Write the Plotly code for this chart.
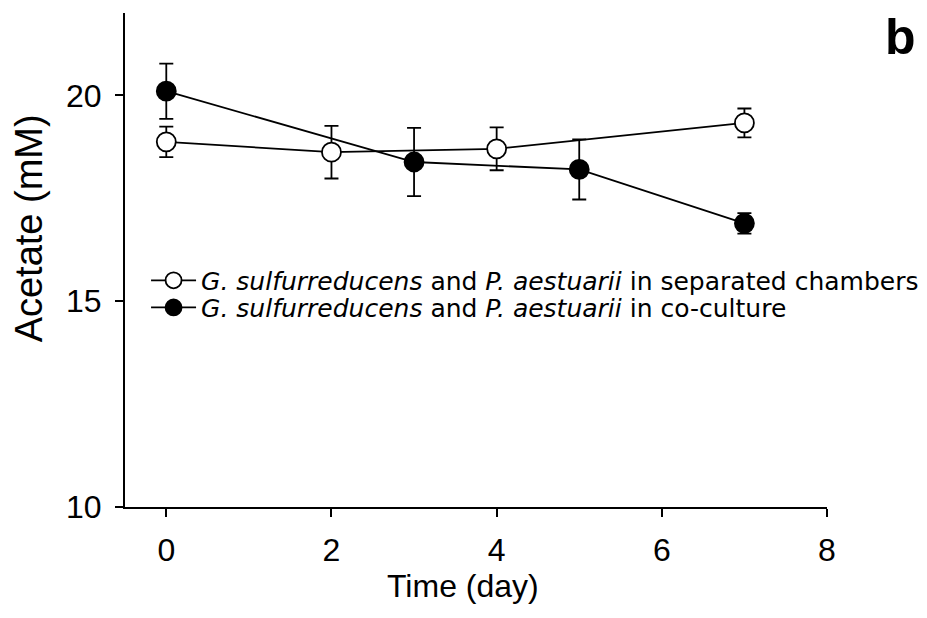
import plotly.graph_objects as go

days_sep = [0, 2, 4, 7]
acetate_sep = [18.87, 18.62, 18.70, 19.33]
err_sep = [0.37, 0.64, 0.52, 0.35]

days_co = [0, 3, 5, 7]
acetate_co = [20.10, 18.38, 18.20, 16.89]
err_co = [0.67, 0.83, 0.73, 0.25]

name_sep = "<i>G. sulfurreducens</i> and <i>P. aestuarii</i> in separated chambers"
name_co = "<i>G. sulfurreducens</i> and <i>P. aestuarii</i> in co-culture"

x_ticks = [0, 2, 4, 6, 8]
y_ticks = [10, 15, 20]

FONT = "Liberation Sans, Arial, sans-serif"
LEG_FONT = dict(size=25, family="DejaVu Sans, sans-serif", color="black")

# page body has an 8px default margin; the figure is sized to fit the 927x618 window
W, H = 919, 610
L, T = 117, 5
PW, PH = 702, 494
R, B = W - L - PW, H - T - PH

fig = go.Figure()
fig.add_trace(go.Scatter(
    x=days_sep, y=acetate_sep, mode="lines+markers", name=name_sep, legend="legend",
    line=dict(color="black", width=1.8),
    marker=dict(symbol="circle", size=19, color="white", line=dict(color="black", width=1.8)),
    error_y=dict(type="data", array=err_sep, visible=True, color="black", thickness=1.8, width=7),
))
fig.add_trace(go.Scatter(
    x=days_co, y=acetate_co, mode="lines+markers", name=name_co, legend="legend2",
    line=dict(color="black", width=1.8),
    marker=dict(symbol="circle", size=19, color="black", line=dict(color="black", width=1.8)),
    error_y=dict(type="data", array=err_co, visible=True, color="black", thickness=1.8, width=7),
))

fig.add_annotation(text="<b>b</b>", x=1.105, y=0.951, xref="paper", yref="paper",
                   xanchor="center", yanchor="middle", showarrow=False,
                   font=dict(size=50, color="black", family=FONT))
fig.add_annotation(text="Acetate (mM)", x=-0.1375, y=0.565, xref="paper", yref="paper",
                   xanchor="center", yanchor="middle", showarrow=False, textangle=-90,
                   font=dict(size=38, color="black", family=FONT))
fig.add_annotation(text="Time (day)", x=0.482, y=-0.160, xref="paper", yref="paper",
                   xanchor="center", yanchor="middle", showarrow=False,
                   font=dict(size=32, color="black", family=FONT))

fig.update_layout(
    width=W, height=H,
    margin=dict(l=L, r=R, t=T, b=B, pad=0, autoexpand=False),
    paper_bgcolor="white", plot_bgcolor="white",
    font=dict(family=FONT, color="black"),
    showlegend=True,
    legend=dict(x=0.030, y=0.505, xanchor="left", yanchor="top",
                font=LEG_FONT, bgcolor="rgba(0,0,0,0)", itemwidth=45),
    legend2=dict(x=0.030, y=0.450, xanchor="left", yanchor="top",
                 font=LEG_FONT, bgcolor="rgba(0,0,0,0)", itemwidth=45),
    xaxis=dict(range=[-0.5, 8], tickvals=x_ticks, ticks="outside", ticklen=8, tickwidth=2,
               tickcolor="black", showline=True, linecolor="black", linewidth=2,
               showgrid=False, zeroline=False, tickfont=dict(size=32),
               ticklabelstandoff=6),
    yaxis=dict(range=[10, 22], tickvals=y_ticks, ticks="outside", ticklen=8, tickwidth=2,
               tickcolor="black", showline=True, linecolor="black", linewidth=2,
               showgrid=False, zeroline=False, tickfont=dict(size=32),
               ticklabelstandoff=7),
)

fig.write_html("out.html")
